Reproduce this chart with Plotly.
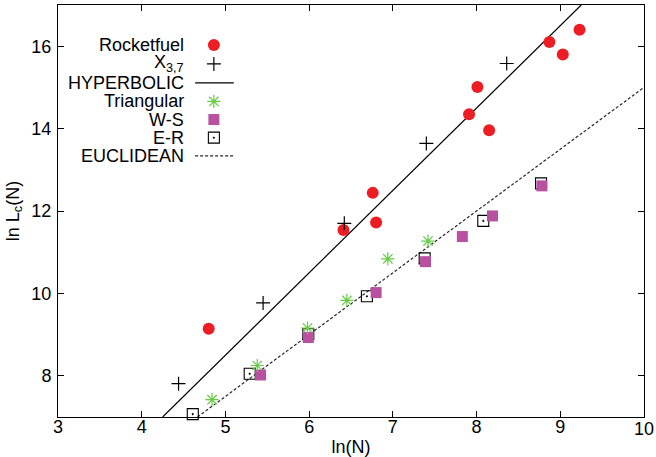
import plotly.graph_objects as go

# ---- data ----
rocket_x = [4.80, 6.41, 6.76, 6.80, 7.91, 8.01, 8.15, 8.87, 9.03, 9.23]
rocket_y = [9.14, 11.54, 12.44, 11.72, 14.35, 15.01, 13.96, 16.10, 15.80, 16.40]

x37_x = [4.44, 5.45, 6.42, 7.40, 8.36]
x37_y = [7.81, 9.77, 11.70, 13.64, 15.58]

hyper_x = [4.25, 9.25]
hyper_y = [7.0, 17.0]

tri_x = [4.84, 5.38, 5.98, 6.45, 6.94, 7.42]
tri_y = [7.42, 8.25, 9.16, 9.83, 10.84, 11.27]

ws_x = [4.60, 5.42, 5.99, 6.80, 7.39, 7.83, 8.19, 8.78]
ws_y = [6.85, 8.02, 8.93, 10.02, 10.77, 11.38, 11.88, 12.61]

er_x = [4.61, 5.29, 5.99, 6.69, 7.38, 8.08, 8.77]
er_y = [7.07, 8.05, 9.01, 9.93, 10.85, 11.76, 12.67]

eucl_x = [4.667, 10.0]
eucl_y = [7.0, 15.0]

x_ticks = [3, 4, 5, 6, 7, 8, 9, 10]
y_ticks = [8, 10, 12, 14, 16]

legend_labels = ["Rocketfuel", "X<sub>3,7</sub>", "HYPERBOLIC", "Triangular", "W-S", "E-R", "EUCLIDEAN"]

RED = "rgb(237,29,36)"
GREEN = "rgb(102,204,68)"
MAGENTA = "rgb(184,82,160)"
FONT = "Liberation Sans, Arial, Helvetica, sans-serif"

M_RED = dict(symbol="circle", size=12, color=RED, line=dict(width=0))
M_PLUS = dict(symbol="cross-thin", size=10, line=dict(color="black", width=1.2))
M_ER = dict(symbol="square-open-dot", size=11, color="black", line=dict(color="black", width=1.1))
M_WS = dict(symbol="square", size=11, color=MAGENTA, line=dict(width=0))
M_TRI = dict(symbol="asterisk", size=11, line=dict(color=GREEN, width=1.2))

fig = go.Figure()

fig.add_trace(go.Scatter(x=hyper_x, y=hyper_y, mode="lines",
                         line=dict(color="black", width=1.2)))
fig.add_trace(go.Scatter(x=eucl_x, y=eucl_y, mode="lines",
                         line=dict(color="rgb(40,40,40)", width=1.2, dash="3px,2px")))
fig.add_trace(go.Scatter(x=rocket_x, y=rocket_y, mode="markers", cliponaxis=False, marker=M_RED))
fig.add_trace(go.Scatter(x=x37_x, y=x37_y, mode="markers", cliponaxis=False, marker=M_PLUS))
fig.add_trace(go.Scatter(x=er_x, y=er_y, mode="markers", cliponaxis=False, marker=M_ER))
fig.add_trace(go.Scatter(x=ws_x, y=ws_y, mode="markers", cliponaxis=False, marker=M_WS))
fig.add_trace(go.Scatter(x=tri_x, y=tri_y, mode="markers", cliponaxis=False, marker=M_TRI))

# ---- gnuplot-style key (text right, sample left) ----
key_y = [0.903, 0.857, 0.811, 0.766, 0.722, 0.678, 0.634]
text_x = 0.218
samp_x = 0.266
for lab, yy in zip(legend_labels, key_y):
    fig.add_annotation(x=text_x, y=yy, xref="paper", yref="paper", text=lab,
                       showarrow=False, xanchor="right", yanchor="middle",
                       font=dict(family=FONT, size=18, color="black"))

legend_markers = [(key_y[0], M_RED), (key_y[1], M_PLUS), (key_y[3], M_TRI),
                  (key_y[4], M_WS), (key_y[5], M_ER)]
for yy, mk in legend_markers:
    fig.add_trace(go.Scatter(x=[samp_x], y=[yy], xaxis="x2", yaxis="y2", mode="markers",
                             cliponaxis=False, marker=mk))
fig.add_shape(type="line", xref="paper", yref="paper", x0=0.234, x1=0.300,
              y0=key_y[2], y1=key_y[2], line=dict(color="black", width=1.2))
fig.add_shape(type="line", xref="paper", yref="paper", x0=0.234, x1=0.300,
              y0=key_y[6], y1=key_y[6], line=dict(color="rgb(40,40,40)", width=1.2, dash="3px,2px"))

# last x tick label placed at its tick (plotly nudges edge labels inward)
x_tick_text = [str(v) for v in x_ticks[:-1]] + [""]
fig.add_annotation(x=x_ticks[-1], xref="x", y=0, yref="paper", yshift=-12,
                   text=str(x_ticks[-1]), showarrow=False, xanchor="center", yanchor="middle",
                   font=dict(family=FONT, size=18, color="black"))

axis_common = dict(showline=True, linecolor="black", linewidth=1, mirror="allticks",
                   ticks="inside", ticklen=6, tickcolor="black", tickwidth=1,
                   showgrid=False, zeroline=False, automargin=False,
                   ticklabeloverflow="allow",
                   tickfont=dict(family=FONT, size=18, color="black"))

fig.update_layout(
    width=656, height=457,
    margin=dict(l=58, r=12, t=5, b=40),
    paper_bgcolor="white", plot_bgcolor="white",
    showlegend=False,
    font=dict(family=FONT, size=18, color="black"),
    xaxis=dict(range=[3, 10], tickvals=x_ticks, ticktext=x_tick_text,
               ticklabelstandoff=-7,
               title=dict(text="ln(N)", font=dict(family=FONT, size=18), standoff=5),
               **axis_common),
    yaxis=dict(range=[7, 17], tickvals=y_ticks, ticktext=[str(v) for v in y_ticks],
               ticklabelstandoff=2,
               title=dict(text="ln L<sub>c</sub>(N)", font=dict(family=FONT, size=18), standoff=7),
               **axis_common),
    xaxis2=dict(overlaying="x", range=[0, 1], visible=False),
    yaxis2=dict(overlaying="y", range=[0, 1], visible=False),
)

fig.write_html("out.html", config={"displayModeBar": False},
               post_script="document.body.style.margin='0';")
